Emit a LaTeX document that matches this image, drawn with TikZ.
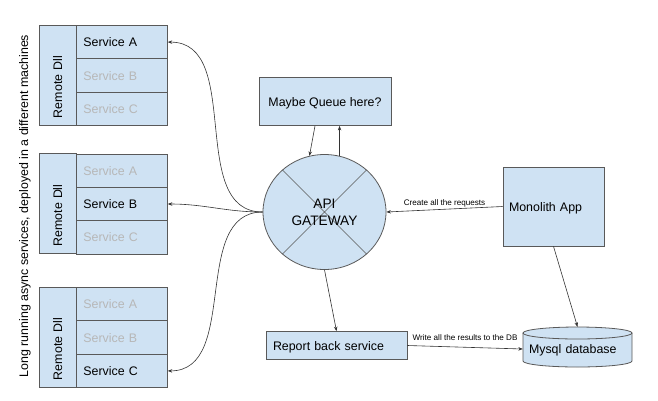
\documentclass[tikz,border=0pt]{standalone}
\usepackage{fontspec}
\setmainfont{Liberation Sans}
\usetikzlibrary{shapes.geometric,arrows.meta,calc}
\definecolor{boxblue}{HTML}{CFE2F3}
\definecolor{bordercol}{HTML}{595959}
\definecolor{dimtext}{HTML}{B7B7B7}
\definecolor{linecol}{HTML}{333333}
\begin{document}
\begin{tikzpicture}[x=1pt,y=-1pt,
  every node/.style={font=\fontsize{12.4}{14.5}\selectfont},
  boxnode/.style={draw=bordercol,fill=boxblue,line width=0.8pt,rectangle,text height=9pt,text depth=0pt},
  colnode/.style={boxnode,text width=86pt,inner xsep=7pt,inner ysep=0pt,align=left,minimum height=37pt},
  svc/.style={boxnode,text width=77pt,inner xsep=7pt,inner ysep=0pt,align=left,minimum height=33.4pt},
  dim/.style={text=dimtext},
  conn/.style={draw=linecol,line width=0.6pt,-{Stealth[length=4.5pt,width=3.5pt]}},
  small/.style={font=\fontsize{8.1}{9.5}\selectfont,inner sep=1.5pt}
]
\useasboundingbox (0,0) rectangle (658,400);
% side label
\node[rotate=90] (side) at (25,206) {Long running async services, deployed in a different machines};
% group 1
\node[colnode,rotate=90] (g1col) at (57.5,75) {Remote Dll};
\node[svc,anchor=north west] (g1a) at (76,25) {Service A};
\node[svc,dim,anchor=north west] (g1b) at (76,58.4) {Service B};
\node[svc,dim,anchor=north west] (g1c) at (76,91.8) {Service C};
% group 2
\node[colnode,rotate=90] (g2col) at (57.5,203.5) {Remote Dll};
\node[svc,dim,anchor=north west] (g2a) at (76,153.5) {Service A};
\node[svc,anchor=north west] (g2b) at (76,186.9) {Service B};
\node[svc,dim,anchor=north west] (g2c) at (76,220.3) {Service C};
% group 3
\node[colnode,rotate=90] (g3col) at (57.5,337) {Remote Dll};
\node[svc,dim,anchor=north west] (g3a) at (76,287) {Service A};
\node[svc,dim,anchor=north west] (g3b) at (76,320.4) {Service B};
\node[svc,anchor=north west] (g3c) at (76,353.8) {Service C};
% queue
\node[boxnode,minimum width=132pt,minimum height=48pt,inner sep=0pt] (q) at (325,101.5) {Maybe Queue here?};
% gateway
\node[ellipse,draw=bordercol,fill=boxblue,line width=0.8pt,minimum width=123pt,minimum height=115pt,inner sep=0pt] (gw) at (324.5,212) {};
\draw[draw=bordercol,line width=0.6pt] (gw.135) -- (gw.-45) (gw.45) -- (gw.-135);
\node[align=center,font=\fontsize{13.7}{17}\selectfont] (gwtext) at (324.5,212) {API\\GATEWAY};
% monolith
\node[boxnode,text width=89pt,inner xsep=6pt,align=left,minimum height=79pt] (mono) at (553.5,206.5) {Monolith App};
% report back
\node[boxnode,text width=127pt,inner xsep=7pt,inner ysep=0pt,align=left,minimum height=28pt] (rep) at (336.5,345.5) {Report back service};
% database
\fill[boxblue] (523,333) -- (523,361) arc[start angle=180,end angle=360,x radius=54.5pt,y radius=6pt] -- (632,333) arc[start angle=0,end angle=180,x radius=54.5pt,y radius=6pt] -- cycle;
\draw[draw=bordercol,line width=0.8pt] (523,333) -- (523,361) arc[start angle=180,end angle=360,x radius=54.5pt,y radius=6pt] -- (632,333);
\draw[draw=bordercol,line width=0.8pt] (577.5,333) ellipse [x radius=54.5pt,y radius=6pt];
\node[text width=97pt,inner xsep=6pt,inner ysep=0pt,align=left,minimum height=44pt,text height=9pt,text depth=0pt] (db) at (577.5,349) {Mysql database};
% connectors
\draw[conn] (gw.west) to[out=180,in=0] (g1a.east);
\draw[conn] (gw.west) to[out=180,in=0] (g2b.east);
\draw[conn] (gw.west) to[out=180,in=0] (g3c.east);
\draw[conn] ($(q.south)+(-10,0)$) -- (gw.105);
\draw[conn] (gw.75) -- (gw.75 |- q.south);
\draw[conn] (mono.west) -- node[small,above] (lbl1) {Create all the requests} (gw.east);
\draw[conn] (gw.south) -- (rep.north);
\draw[conn] (rep.east) -- node[small,above=5pt] (lbl2) {Write all the results to the DB} (db.west);
\draw[conn] (mono.south) -- (db.north);
\end{tikzpicture}
\end{document}
